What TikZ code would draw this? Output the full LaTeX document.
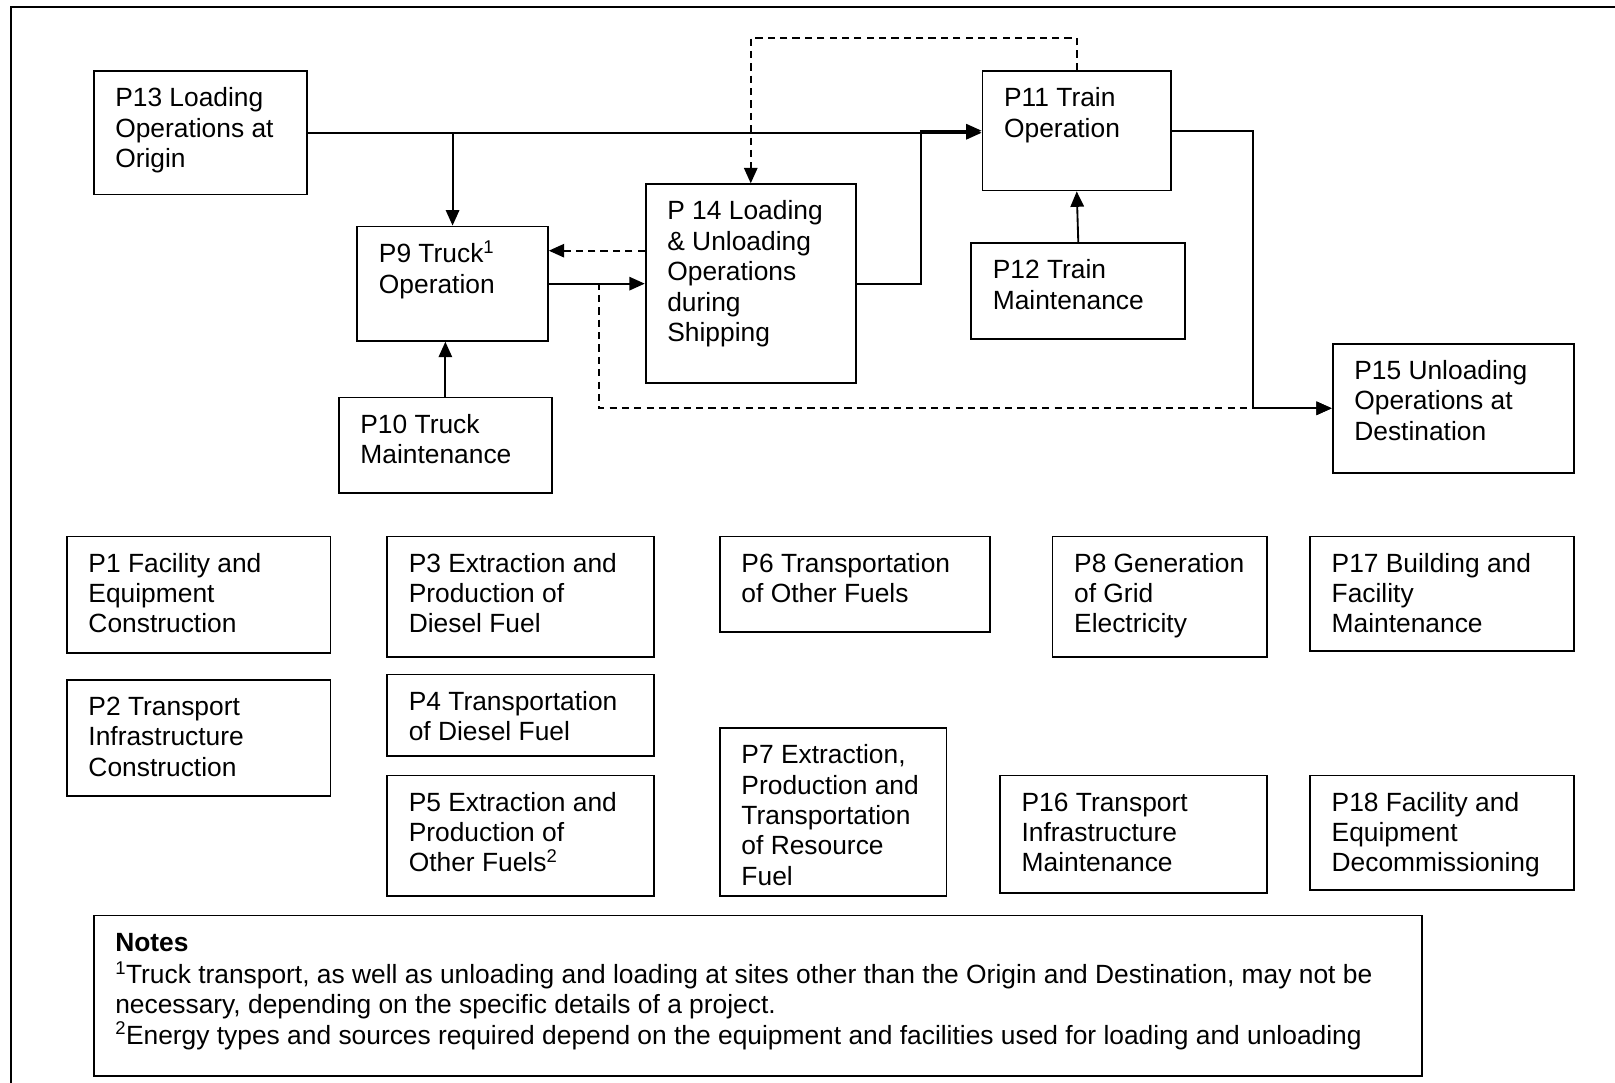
\documentclass[tikz,border=0pt]{standalone}
\usepackage{fontspec}
\setmainfont{Liberation Sans}
\usetikzlibrary{arrows.meta}
\newcommand{\boxfont}{\fontsize{25.6pt}{29.5pt}\selectfont}
% box text: width, height, lines
\newcommand{\ptxt}[3]{\parbox[t][#2pt][t]{#1pt}{\raggedright\leftskip=21pt\relax
    \vspace*{14pt}\strut#3}}

\begin{document}
\begin{tikzpicture}[x=1pt, y=-1pt,
    proc/.style={draw, line width=1.8pt, anchor=north west, inner sep=0pt,
                 font=\boxfont},
    arrow/.style={-{Triangle[length=15pt,width=13pt]}, line width=1.8pt},
    dasharrow/.style={arrow, dash pattern=on 7pt off 5pt},
]
\useasboundingbox (0,0) rectangle (1568,1051);
\draw[line width=2.2pt] (10.5,7) rectangle (1620,1100);

% Transport chain
\node[proc] (p13) at (90,68) {\ptxt{207}{120}{P13 Loading\\Operations at\\Origin}};
\node[proc] (p11) at (953,68) {\ptxt{183}{116}{P11 Train\\Operation}};
\node[proc] (p9) at (346,219) {\ptxt{185}{111}{P9 Truck\textsuperscript{1}\\Operation}};
\node[proc] (p14) at (626,178) {\ptxt{204}{193}{P 14 Loading\\\& Unloading\\Operations\\during\\Shipping}};
\node[proc] (p12) at (942,235) {\ptxt{208}{93}{P12 Train\\Maintenance}};
\node[proc] (p10) at (328,385) {\ptxt{207}{93}{P10 Truck\\Maintenance}};
\node[proc] (p15) at (1293,333) {\ptxt{234}{125}{P15 Unloading\\Operations at\\Destination}};

% Supporting processes
\node[proc] (p1) at (64,520) {\ptxt{256}{113}{P1 Facility and\\Equipment\\Construction}};
\node[proc] (p3) at (375,520) {\ptxt{259}{117}{P3 Extraction and\\Production of\\Diesel Fuel}};
\node[proc] (p6) at (698,520) {\ptxt{262}{93}{P6 Transportation\\of Other Fuels}};
\node[proc] (p8) at (1021,520) {\ptxt{208}{117}{P8 Generation\\of Grid\\Electricity}};
\node[proc] (p17) at (1271,520) {\ptxt{256}{111}{P17 Building and\\Facility\\Maintenance}};
\node[proc] (p2) at (64,659) {\ptxt{256}{113}{P2 Transport\\Infrastructure\\Construction}};
\node[proc] (p4) at (375,654) {\ptxt{259}{79}{P4 Transportation\\of Diesel Fuel}};
\node[proc] (p5) at (375,752) {\ptxt{259}{117}{P5 Extraction and\\Production of\\Other Fuels\textsuperscript{2}}};
\node[proc] (p7) at (698,706) {\ptxt{220}{163}{P7 Extraction,\\Production and\\Transportation\\of Resource\\Fuel}};
\node[proc] (p16) at (970,752) {\ptxt{259}{114}{P16 Transport\\Infrastructure\\Maintenance}};
\node[proc] (p18) at (1271,752) {\ptxt{256}{111}{P18 Facility and\\Equipment\\Decommissioning}};

% Notes
\node[proc] (notes) at (90,888) {\ptxt{1290}{156}{\textbf{Notes}\\
    \textsuperscript{1}Truck transport, as well as unloading and loading at sites other than the Origin and Destination, may not be\\
    necessary, depending on the specific details of a project.\\
    \textsuperscript{2}Energy types and sources required depend on the equipment and facilities used for loading and unloading}};

% Arrows
\draw[arrow] (p13.east) -- (p11.west |- p13.east);
\draw[arrow] (p9.north |- p13.east) -- (p9.north);
\draw[dasharrow] (p11.north) -- ++(0,-31) -| (p14.north);
\draw[dasharrow] ([yshift=32pt]p14.west) -- ([yshift=32pt]p9.east);
\draw[arrow] (p9.east) -- (p14.west);
\draw[arrow] (p14.east) -- ++(62,0) |- (p11.west);
\draw[dasharrow] (p9.east) -- ++(49,0) |- (p15.west);
\draw[arrow] (p11.east) -- ++(79,0) |- (p15.west);
\draw[arrow] (p12.north) -- (p11.south);
\draw[arrow] (p10.north) -- (p10.north |- p9.south);

\end{tikzpicture}
\end{document}
